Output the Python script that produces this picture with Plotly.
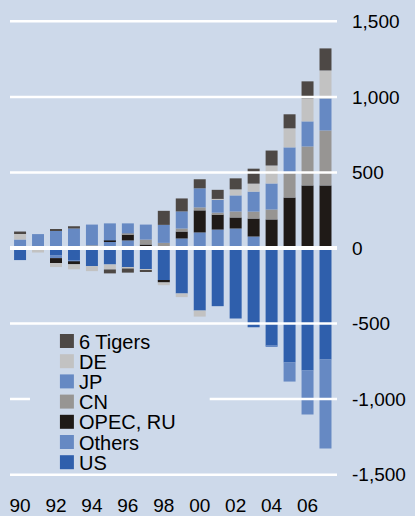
import plotly.graph_objects as go

years = list(range(1990, 2008))
us = [-80, 3, -47, -81, -120, -109, -131, -142, -215, -301, -414, -385, -467, -524, -645, -758, -811, -738]
others = [0, 0, -20, -7, 0, 43, 50, 0, 0, 63, 103, 122, 129, 76, -7, -126, -291, -589]
opec_ru = [0, 0, -33, -20, 0, 7, 40, 23, -13, 46, 146, 99, 73, 119, 189, 334, 414, 414]
cn = [0, 0, 0, 0, 18, 0, 7, 33, 34, 20, 20, 13, 40, 46, 66, 166, 258, 364]
jp = [56, 89, 114, 129, 137, 113, 66, 99, 119, 113, 126, 86, 106, 132, 172, 166, 166, 212]
de = [40, -30, -26, -33, -33, -33, -5, -4, -18, -24, -40, 5, 40, 53, 119, 126, 152, 185]
tigers = [13, 0, 9, 15, 0, -26, -27, -7, 93, 86, 60, 60, 73, 99, 99, 93, 113, 146]

x_ticks = [1990, 1992, 1994, 1996, 1998, 2000, 2002, 2004, 2006]
x_labels = ['90', '92', '94', '96', '98', '00', '02', '04', '06']
y_ticks = [-1500, -1000, -500, 0, 500, 1000, 1500]
y_labels = ['-1,500', '-1,000', '-500', '0', '500', '1,000', '1,500']

bg = '#CDD9EA'
series = [
    ('US', us, '#2F5FAC'),
    ('Others', others, '#6689C3'),
    ('OPEC, RU', opec_ru, '#1F1A17'),
    ('CN', cn, '#979593'),
    ('JP', jp, '#6689C3'),
    ('DE', de, '#C2C2C2'),
    ('6 Tigers', tigers, '#4D4845'),
]

W, H = 415, 516
L, R, T, B = 10, 337.5, 12, 484  # plot area in pixels


def px(x):
    return (x - L) / (R - L)


def py(y):
    return (B - y) / (B - T)


fig = go.Figure()
for name, vals, col in series:
    fig.add_trace(go.Bar(x=years, y=vals, name=name, marker=dict(color=col, line=dict(width=0))))

shapes = []
# white gridlines drawn on top of bars
for v in y_ticks:
    shapes.append(dict(type='line', xref='paper', yref='y', x0=0, x1=1, y0=v, y1=v,
                       line=dict(color='white', width=4 if v == 0 else 2.5), layer='above'))
# legend background
shapes.append(dict(type='rect', xref='paper', yref='paper', x0=px(30), x1=px(210), y0=py(471), y1=py(330),
                   fillcolor=bg, line=dict(width=0), layer='above'))

# legend drawn by hand (plotly's own legend rows are too tall for this spacing)
annotations = []
for i, (name, vals, col) in enumerate(reversed(series)):
    yc = 341 + i * 20.2
    shapes.append(dict(type='rect', xref='paper', yref='paper', x0=px(60), x1=px(74),
                       y0=py(yc + 7), y1=py(yc - 7), fillcolor=col, line=dict(width=0), layer='above'))
    annotations.append(dict(xref='paper', yref='paper', x=px(77), y=py(yc + 0.5), text=name, showarrow=False,
                            xanchor='left', yanchor='middle', font=dict(size=20, color='black')))

fig.update_layout(
    width=W, height=H,
    margin=dict(l=L, r=W - R, t=T, b=H - B, autoexpand=False),
    paper_bgcolor=bg, plot_bgcolor=bg,
    barmode='relative', bargap=0.333,
    showlegend=False,
    font=dict(family='Liberation Sans, Arial, sans-serif', size=19, color='black'),
    shapes=shapes, annotations=annotations,
    xaxis=dict(range=[1989.44, 2007.64], tickvals=x_ticks, ticktext=x_labels, showgrid=False,
               zeroline=False, showline=False, ticks='', tickfont=dict(size=19), ticklabelstandoff=8,
               automargin=False),
    yaxis=dict(range=[-1562, 1562], side='right', tickvals=y_ticks, ticktext=y_labels, showgrid=False,
               zeroline=False, showline=False, ticks='', tickfont=dict(size=19), ticklabelstandoff=14,
               automargin=False),
)

# page has a default 8px body margin; remove it so the chart fills the window
fig.write_html("out.html", config={'displayModeBar': False},
               post_script="document.body.style.margin='0';document.body.style.background='%s';" % bg)
